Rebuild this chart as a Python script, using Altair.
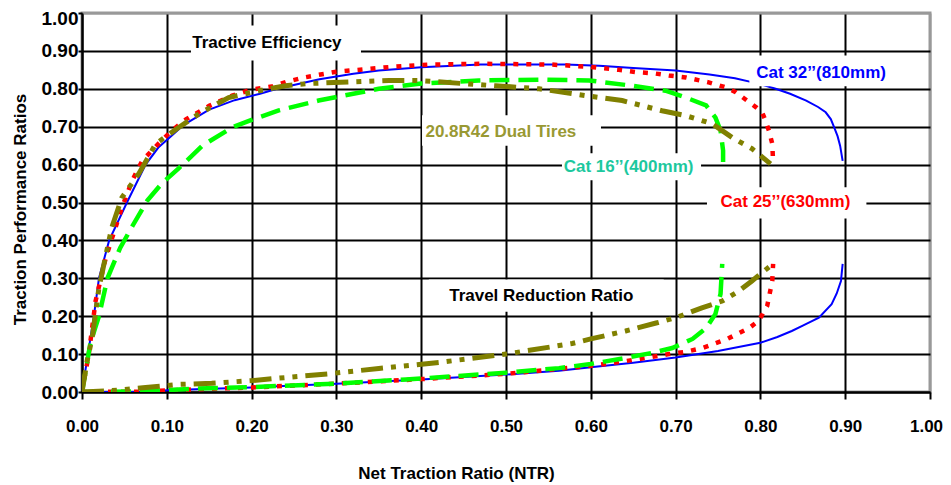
import altair as alt
import pandas as pd

FONT = "Liberation Sans"

ticks = [0.0, 0.1, 0.2, 0.3, 0.4, 0.5, 0.6, 0.7, 0.8, 0.9, 1.0]

# ---- Cat 32''(810mm) ----
cat32_te_x = [0, 0.007, 0.014, 0.020, 0.032, 0.053, 0.075, 0.09, 0.105, 0.12, 0.15, 0.18, 0.21, 0.23,
              0.28, 0.32, 0.35, 0.40, 0.47, 0.57, 0.61, 0.65, 0.70, 0.74, 0.77, 0.795, 0.818, 0.835,
              0.854, 0.868, 0.877, 0.883, 0.887, 0.891, 0.894, 0.897]
cat32_te_y = [0, 0.10, 0.20, 0.30, 0.40, 0.50, 0.60, 0.645, 0.675, 0.705, 0.745, 0.77, 0.787, 0.80,
              0.825, 0.84, 0.848, 0.857, 0.864, 0.864, 0.861, 0.855, 0.848, 0.838, 0.828, 0.815, 0.80,
              0.787, 0.769, 0.752, 0.738, 0.72, 0.698, 0.675, 0.65, 0.61]
cat32_tr_x = [0, 0.075, 0.095, 0.134, 0.2, 0.30, 0.40, 0.50, 0.5625, 0.60, 0.65, 0.70, 0.75, 0.80,
              0.82, 0.837, 0.85, 0.869, 0.884, 0.89, 0.895, 0.897]
cat32_tr_y = [0, 0, 0.004, 0.007, 0.012, 0.022, 0.033, 0.046, 0.056, 0.065, 0.077, 0.091, 0.108, 0.13,
              0.145, 0.161, 0.175, 0.196, 0.232, 0.26, 0.293, 0.338]

# ---- Cat 25''(630mm) ----
cat25_te_x = [0, 0.008, 0.016, 0.028, 0.047, 0.059, 0.071, 0.09, 0.106, 0.123, 0.15, 0.177, 0.2, 0.224,
              0.242, 0.262, 0.30, 0.366, 0.409, 0.472, 0.554, 0.598, 0.633, 0.653, 0.674, 0.692, 0.712,
              0.739, 0.759, 0.771, 0.795, 0.802, 0.806, 0.81, 0.814, 0.815]
cat25_te_y = [0, 0.10, 0.24, 0.354, 0.486, 0.557, 0.61, 0.655, 0.69, 0.72, 0.755, 0.782, 0.798, 0.806,
              0.819, 0.83, 0.845, 0.858, 0.864, 0.866, 0.864, 0.858, 0.85, 0.844, 0.841, 0.835, 0.83,
              0.817, 0.804, 0.791, 0.751, 0.738, 0.716, 0.69, 0.655, 0.606]
cat25_tr_x = [0, 0.07, 0.13, 0.2, 0.3, 0.4, 0.5, 0.586, 0.618, 0.657, 0.692, 0.712, 0.733, 0.761, 0.787,
              0.798, 0.808, 0.814, 0.815]
cat25_tr_y = [0, 0.001, 0.007, 0.012, 0.022, 0.034, 0.048, 0.066, 0.074, 0.087, 0.10, 0.106, 0.117, 0.14,
              0.169, 0.188, 0.227, 0.293, 0.338]

# ---- Cat 16''(400mm) ----
cat16_te_x = [0, 0.01, 0.02, 0.03, 0.045, 0.06, 0.077, 0.094, 0.114, 0.142, 0.177, 0.2, 0.232, 0.279,
              0.35, 0.40, 0.468, 0.547, 0.598, 0.649, 0.688, 0.712, 0.736, 0.747, 0.753, 0.756, 0.756]
cat16_te_y = [0, 0.13, 0.20, 0.30, 0.38, 0.44, 0.505, 0.55, 0.59, 0.65, 0.698, 0.718, 0.743, 0.769,
              0.80, 0.814, 0.822, 0.824, 0.822, 0.808, 0.795, 0.777, 0.756, 0.724, 0.69, 0.637, 0.592]
cat16_tr_x = [0, 0.075, 0.134, 0.2, 0.3, 0.382, 0.5, 0.5625, 0.60, 0.641, 0.672, 0.696, 0.72, 0.736,
              0.747, 0.753, 0.755]
cat16_tr_y = [0, 0.002, 0.009, 0.013, 0.022, 0.033, 0.051, 0.063, 0.074, 0.09, 0.103, 0.116, 0.14,
              0.169, 0.206, 0.259, 0.338]

# ---- 20.8R42 Dual Tires ----
dual_te_x = [0, 0.006, 0.012, 0.02, 0.035, 0.047, 0.067, 0.087, 0.114, 0.138, 0.173, 0.209, 0.24, 0.268,
             0.362, 0.397, 0.448, 0.488, 0.539, 0.594, 0.637, 0.684, 0.712, 0.743, 0.767, 0.79, 0.812]
dual_te_y = [0, 0.082, 0.143, 0.275, 0.433, 0.513, 0.576, 0.655, 0.698, 0.734, 0.777, 0.795, 0.808, 0.814,
             0.822, 0.822, 0.814, 0.808, 0.80, 0.782, 0.769, 0.742, 0.729, 0.708, 0.671, 0.642, 0.602]
dual_tr_x = [0, 0.032, 0.075, 0.114, 0.153, 0.2, 0.224, 0.291, 0.35, 0.421, 0.5, 0.578, 0.60, 0.641,
             0.677, 0.70, 0.731, 0.755, 0.775, 0.79, 0.802, 0.812]
dual_tr_y = [0, 0.003, 0.012, 0.02, 0.023, 0.03, 0.035, 0.048, 0.062, 0.078, 0.10, 0.128, 0.14, 0.161,
             0.182, 0.196, 0.222, 0.24, 0.267, 0.293, 0.315, 0.333]

series = [
    ("cat32", cat32_te_x, cat32_te_y, cat32_tr_x, cat32_tr_y),
    ("cat25", cat25_te_x, cat25_te_y, cat25_tr_x, cat25_tr_y),
    ("cat16", cat16_te_x, cat16_te_y, cat16_tr_x, cat16_tr_y),
    ("dual", dual_te_x, dual_te_y, dual_tr_x, dual_tr_y),
]

styles = {
    "cat32": dict(color="#0000FF", strokeWidth=2),
    "cat25": dict(color="#FF0000", strokeWidth=4.5, strokeDash=[5, 8]),
    "cat16": dict(color="#00FF00", strokeWidth=4.5, strokeDash=[20, 9]),
    "dual": dict(color="#808000", strokeWidth=5, strokeDash=[22, 8, 5, 8, 5, 8]),
}

# ---- annotation labels ----
label_text = ["Tractive Efficiency", "20.8R42 Dual Tires", "Cat 16’’(400mm)", "Cat 25’’(630mm)",
              "Cat 32’’(810mm)", "Travel Reduction Ratio"]
label_color = ["#000000", "#999933", "#1CC89E", "#FF0000", "#0000FF", "#000000"]
label_x = [0.130, 0.405, 0.568, 0.753, 0.795, 0.433]
label_y = [0.922, 0.686, 0.594, 0.501, 0.843, 0.252]
box_x0 = [0.1285, 0.401, 0.566, 0.737, 0.787, 0.409]
box_x1 = [0.329, 0.612, 0.730, 0.925, 0.954, 0.686]
box_y0 = [0.875, 0.650, 0.559, 0.458, 0.807, 0.212]
box_y1 = [0.967, 0.730, 0.630, 0.540, 0.888, 0.297]

rows = []
for name, tex, tey, trx, try_ in series:
    for i, (a, b) in enumerate(zip(tex, tey)):
        rows.append({"series": name, "curve": "te", "ntr": a, "ratio": b, "order": i})
    for i, (a, b) in enumerate(zip(trx, try_)):
        rows.append({"series": name, "curve": "tr", "ntr": a, "ratio": b, "order": i})
df = pd.DataFrame(rows)

labels = pd.DataFrame({"text": label_text, "color": label_color, "ntr": label_x, "ratio": label_y})
boxes = pd.DataFrame({"ntr": box_x0, "ntr2": box_x1, "ratio": box_y0, "ratio2": box_y1})

grid_color = {"condition": {"test": "datum.value >= 0.999", "value": "#999999"}, "value": "#000000"}
y_top_offset = {"condition": {"test": "datum.value >= 0.999", "value": 5}, "value": 0}
x_end_offset = {"condition": {"test": "datum.value >= 0.999", "value": -4}, "value": 0}

x_axis = alt.Axis(values=ticks, format=".2f", title="Net Traction Ratio (NTR)",
                  labelFont=FONT, labelFontSize=17, labelFontWeight="bold", labelColor="#000000",
                  labelPadding=19, labelOffset=x_end_offset,
                  tickSize=7, tickWidth=2, tickColor="#000000",
                  domainColor="#000000", domainWidth=2,
                  grid=True, gridColor=grid_color, gridWidth=2,
                  titleFont=FONT, titleFontSize=17, titleFontWeight="bold", titleColor="#000000",
                  titleX=374, titleY=86, titleBaseline="alphabetic", titleAlign="center",
                  labelFlush=False, labelOverlap=False)
y_axis = alt.Axis(values=ticks, format=".2f", title="Traction Performance Ratios",
                  labelFont=FONT, labelFontSize=19, labelFontWeight="bold", labelColor="#000000",
                  labelPadding=0, labelOffset=y_top_offset,
                  tickSize=4, tickWidth=2, tickColor="#000000",
                  domainColor="#000000", domainWidth=2,
                  grid=True, gridColor=grid_color, gridWidth=2,
                  titleFont=FONT, titleFontSize=17, titleFontWeight="bold", titleColor="#000000",
                  titleX=-57, titleY=196, titleAngle=270, titleBaseline="alphabetic", titleAlign="center",
                  labelFlush=False, labelOverlap=False)

xs = alt.Scale(domain=[0, 1], nice=False, zero=False)
ys = alt.Scale(domain=[0, 1], nice=False, zero=False)

X = alt.X("ntr:Q", scale=xs, axis=x_axis)
Y = alt.Y("ratio:Q", scale=ys, axis=y_axis)

layers = []
for name, *_ in series:
    st = styles[name]
    layers.append(
        alt.Chart(df[df["series"] == name]).mark_line(clip=True, **st).encode(
            x=X, y=Y, detail="curve:N", order="order:Q"
        )
    )

box_layer = alt.Chart(boxes).mark_rect(fill="#FFFFFF", stroke=None).encode(
    x=X, x2="ntr2:Q", y=Y, y2="ratio2:Q"
)
text_layer = alt.Chart(labels).mark_text(
    align="left", baseline="middle", font=FONT, fontSize=17, fontWeight="bold"
).encode(x=X, y=Y, text="text:N", color=alt.Color("color:N", scale=None))

chart = alt.layer(*layers, box_layer, text_layer).properties(
    width=848, height=379,
    autosize=alt.AutoSizeParams(type="none"),
    padding={"left": 74, "top": 5, "right": 13, "bottom": 92},
    background="#FFFFFF",
).configure_view(stroke="#999999", strokeWidth=3)

chart.save("out.html", embed_options={"renderer": "svg", "actions": False})
